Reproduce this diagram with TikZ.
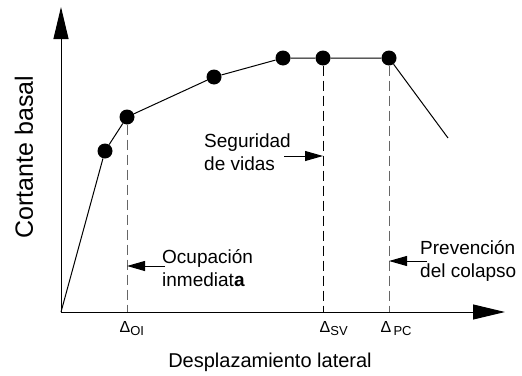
\documentclass[tikz,border=0pt]{standalone}
\usepackage{fontspec}
\setmainfont{Liberation Sans}
\usetikzlibrary{arrows.meta,positioning,calc}

\begin{document}
\begin{tikzpicture}[
        x=1pt, y=-1pt,
        dot/.style={circle, fill=black, inner sep=0pt, minimum size=15pt},
        axis/.style={-{Triangle[length=32pt,width=15pt]}, line width=1pt},
        guide/.style={dash pattern=on 10pt off 5pt, line width=1pt},
        pointer/.style={-{Triangle[length=18pt,width=10pt]}, line width=1pt},
        note/.style={anchor=west, align=left, inner sep=0pt, font=\fontsize{19}{23}\selectfont},
        dlabel/.style={anchor=base, inner sep=0pt, font=\fontsize{16}{18}\selectfont}
    ]
    \useasboundingbox (0,0) rectangle (522,375);

    \coordinate (o) at (61,312);
    \coordinate (ytip) at (61,7);
    \coordinate (xtip) at (505,312);
    \coordinate (fall) at (448,138);

    % Points of the curve
    \node[dot] (p1) at (105,151) {};
    \node[dot] (p2) at (127,117) {};
    \node[dot] (p3) at (214,77) {};
    \node[dot] (p4) at (283,58) {};
    \node[dot] (p5) at (323,58) {};
    \node[dot] (p6) at (389,58) {};

    \draw[line width=1pt] (o) -- (p1) -- (p2) -- (p3) -- (p4) -- (p5) -- (p6) -- (fall);

    % Axes
    \draw[axis] (o) -- (ytip);
    \draw[axis] (o) -- (xtip);

    % Limits
    \draw[guide, black!60] (p2) -- (p2 |- o);
    \draw[guide] (p5) -- (p5 |- o);
    \draw[guide, black!60] (p6) -- (p6 |- o);

    \node[dlabel] (doi) at (125,332) {Δ\rlap{\raisebox{-3pt}{\fontsize{13}{15}\selectfont OI}}};
    \node[dlabel] (dsv) at (325,332) {Δ\rlap{\raisebox{-3pt}{\fontsize{13}{15}\selectfont SV}}};
    \node[dlabel] (dpc) at (386,332) {Δ\rlap{\raisebox{-3pt}{\fontsize{13}{15}\selectfont\,PC}}};

    % Annotations
    \node[note] (oi) at (162,268) {Ocupación\\inmediat\textbf{a}};
    \node[note] (sv) at (204,152) {Seguridad\\de vidas};
    \node[note] (pc) at (420,261) {Prevención\\del colapso};
    \coordinate (svtail) at (284,156);

    \draw[pointer] ([xshift=3pt,yshift=2pt]oi.west) -- ([yshift=2pt]oi.west -| p2);
    \draw[pointer] (svtail) -- (svtail -| p5);
    \draw[pointer] ([xshift=7pt]pc.west) -- (pc.west -| p6);

    % Axis titles
    \node[anchor=base, inner sep=0pt, font=\fontsize{20}{24}\selectfont] (xlab) at (270,367) {Desplazamiento lateral};
    \node[rotate=90, inner sep=0pt, font=\fontsize{25}{30}\selectfont] (ylab) at (24,157) {Cortante basal};
\end{tikzpicture}
\end{document}
